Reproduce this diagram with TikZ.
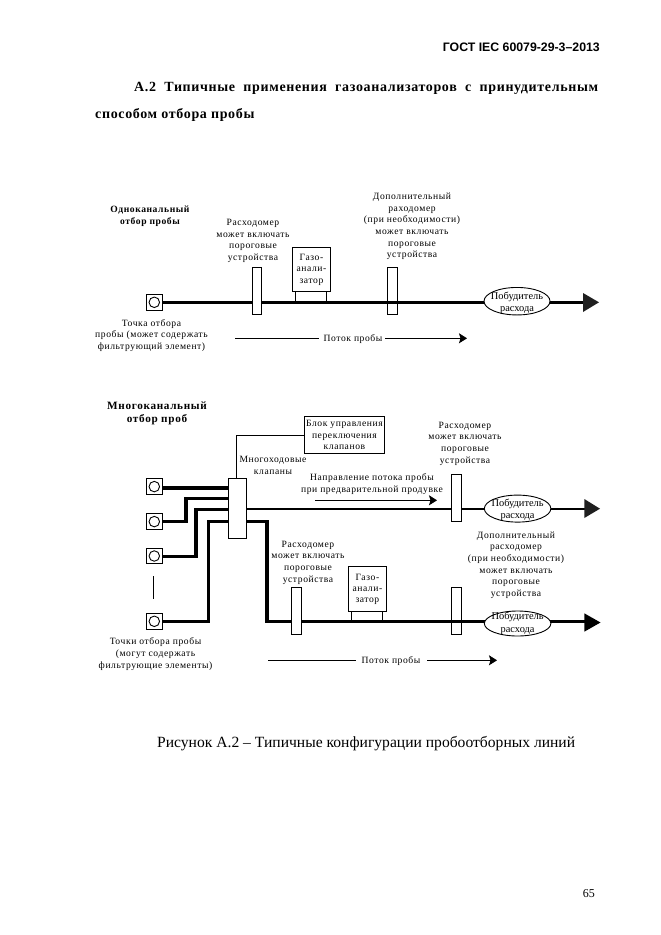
\documentclass[tikz,border=0pt]{standalone}
\usepackage{fontspec}
\setmainfont{Liberation Serif}
\newfontfamily\smallf[LetterSpace=6]{Liberation Serif}
\newfontfamily\titlef[LetterSpace=4.6]{Liberation Serif}
\newfontfamily\hdrf{Liberation Sans}
\usetikzlibrary{shapes.geometric,arrows.meta}
\tikzset{
 lab/.style={align=center,inner sep=0pt,font=\smallf\fontsize{9.6}{11.6}\selectfont},
 gaslab/.style={align=center,inner sep=0pt,font=\smallf\fontsize{9.6}{11.2}\selectfont},
 fanlab/.style={align=center,inner sep=0pt,font=\fontsize{10.4}{12.4}\selectfont},
 head/.style={align=center,inner sep=0pt,font=\smallf\bfseries\fontsize{9.6}{11.7}\selectfont},
 head2/.style={align=center,inner sep=0pt,font=\smallf\bfseries\fontsize{11.2}{13.5}\selectfont},
 thickline/.style={line width=3.3pt,line join=miter},
 midline/.style={line width=2pt},
 thinline/.style={line width=0.9pt},
 boxn/.style={draw=black,line width=0.9pt,fill=white,inner sep=0pt,anchor=north west},
 openbox/.style={draw=black,line width=0.9pt,inner sep=0pt,anchor=north west},
 fan/.style={draw=black,fill=white,line width=0.9pt,ellipse,inner sep=0pt},
 flowtip/.style={-{Stealth[length=8pt,width=10pt,inset=1.5pt]},line width=0.9pt}
}
\newcommand{\sqmark}[2]{%
 \node[boxn,minimum width=15.7pt,minimum height=15.7pt] (#1) at (146,#2) {};
 \node[draw=black,line width=0.9pt,circle,minimum size=10.5pt,inner sep=0pt] at (#1.center) {};}
\newcommand{\fmeter}[3]{\node[boxn,minimum width=9.4pt,minimum height=47pt] (#1) at (#2,#3) {};}
\newcommand{\fmopen}[3]{\node[openbox,minimum width=9.4pt,minimum height=47pt] (#1) at (#2,#3) {};}
\begin{document}
\begin{tikzpicture}[x=1pt,y=-1pt]
\useasboundingbox (0,0) rectangle (661,935);
\fill[white] (0,0) rectangle (661,935);
% header
\node[anchor=east,inner sep=0pt,font=\hdrf\bfseries\fontsize{12.3}{14}\selectfont] (hdr) at (600,47) {ГОСТ IEC 60079-29-3–2013};
\node[anchor=base west,inner sep=0pt,font=\titlef\bfseries\fontsize{14}{16}\selectfont] (t1) at (134,91) {\makebox[464pt][s]{А.2 Типичные применения газоанализаторов с принудительным}};
\node[anchor=base west,inner sep=0pt,font=\titlef\bfseries\fontsize{14}{16}\selectfont] (t2) at (95,118) {способом отбора пробы};
% ---- single channel
\node[head] (h1) at (150,216) {Одноканальный\\отбор пробы};
\sqmark{s0}{294}
\coordinate (a0) at (584,302.3);
\draw[thickline] (s0.east |- a0) -- (a0);
\fill[black!88] (583,293) -- (599,302.3) -- (583,312) -- cycle;
\node[lab] (l1) at (253,241) {Расходомер\\может включать\\пороговые\\устройства};
\fmeter{f1}{251.7}{267.3}
\node[boxn,minimum width=37.4pt,minimum height=44pt] (g1) at (292.3,247.3) {};
\node[gaslab] at (g1.center) {Газо-\\анали-\\затор};
\coordinate (g1l) at (295.3,291.3);\coordinate (g1r) at (326.3,291.3);
\draw[thinline] (g1l) -- ++(0,11) (g1r) -- ++(0,11);
\fmopen{f2}{387.3}{267.3}
\node[lab] (l2) at (412,226.5) {Дополнительный\\раходомер\\(при необходимости)\\может включать\\пороговые\\устройства};
\node[fan,minimum width=66pt,minimum height=27.5pt] (e1) at (517,301.2) {};
\node[fanlab,yshift=-1.5pt] at (e1.center) {Побудитель\\расхода};
\node[lab] (l3) at (151.5,335.5) {Точка отбора\\пробы (может содержать\\фильтрующий элемент)};
\node[lab] (fl1) at (353,339) {Поток пробы};
\coordinate (c1) at (235,338.3);\coordinate (c2) at (318.5,338.3);\coordinate (c3) at (385,338.3);\coordinate (c4) at (467,338.3);
\draw[thinline] (c1) -- (c2);
\draw[flowtip] (c3) -- (c4);
% ---- multi channel
\node[head2] (h2) at (157,413.5) {Многоканальный\\отбор проб};
\sqmark{m1}{478.3}\sqmark{m2}{513.3}\sqmark{m3}{547.7}\sqmark{m4}{613}
\node[boxn,minimum width=17.4pt,minimum height=59.4pt] (v) at (228.3,478.3) {};
\coordinate (v1) at (v.west |- 0,488);
\coordinate (v2) at (v.west |- 0,498.7);
\coordinate (v3) at (v.west |- 0,509.3);
\coordinate (v4) at (v.west |- 0,521.7);
\coordinate (o1) at (v.east |- 0,508.7);
\coordinate (o2) at (v.east |- 0,521.7);
\coordinate (end1) at (585,508.7);
\coordinate (end2) at (585,621.7);
\draw[thickline] (m1.east |- v1) -- (v1);
\draw[thickline] (m2.east |- 0,521.7) -- (186,521.7) -- (186,498.7) -- (v2);
\draw[thickline] (m3.east |- 0,556.7) -- (196,556.7) -- (196,509.3) -- (v3);
\draw[thickline] (m4.east |- 0,621.7) -- (208.3,621.7) -- (208.3,521.7) -- (v4);
\draw[midline] (o1) -- (end1);
\fill[black!88] (584.3,499) -- (600,508.7) -- (584.3,518) -- cycle;
\draw[thickline] (o2) -- (267,521.7) -- (267,621.7) -- (end2);
\fill[black] (584.3,613.3) -- (600.5,622.5) -- (584.3,631.7) -- cycle;
\node[boxn,minimum width=79.4pt,minimum height=37.6pt] (b) at (304.3,415.7) {};
\node[lab] at (b.center) {Блок управления\\переключения\\клапанов};
\coordinate (bv) at (236.7,435.3);
\draw[thinline] (b.west |- bv) -- (bv) -- (bv |- v.north);
\node[lab] (mv) at (273,465.5) {Многоходовые\\клапаны};
\node[lab] (pr) at (372,484) {Направление потока пробы\\при предварительной продувке};
\coordinate (p1) at (315,500.3);\coordinate (p2) at (437,500.3);
\draw[flowtip] (p1) -- (p2);
\fmeter{f3}{451.3}{474.3}
\node[lab] (l4) at (465,443.5) {Расходомер\\может включать\\пороговые\\устройства};
\node[fan,minimum width=66.5pt,minimum height=27pt] (e2) at (517.6,508.6) {};
\node[fanlab,yshift=-1.5pt] at (e2.center) {Побудитель\\расхода};
\node[lab] (l5) at (516,565) {Дополнительный\\расходомер\\(при необходимости)\\может включать\\пороговые\\устройства};
\node[lab] (l6) at (308,562.5) {Расходомер\\может включать\\пороговые\\устройства};
\fmeter{f4}{291.3}{587.3}
\node[boxn,minimum width=37.5pt,minimum height=45.3pt] (g2) at (348.2,566) {};
\node[gaslab] at (g2.center) {Газо-\\анали-\\затор};
\coordinate (g2l) at (351.3,611.3);\coordinate (g2r) at (382.7,611.3);
\draw[thinline] (g2l) -- ++(0,10) (g2r) -- ++(0,10);
\fmopen{f5}{451.3}{587.3}
\node[fan,minimum width=66.5pt,minimum height=25pt] (e3) at (517.6,623.5) {};
\node[fanlab] at (e3.center) {Побудитель\\расхода};
\coordinate (d1) at (153.3,576);\coordinate (d2) at (153.3,599);
\draw[thinline] (d1) -- (d2);
\node[lab] (l7) at (155.5,654) {Точки отбора пробы\\(могут содержать\\фильтрующие элементы)};
\node[lab] (fl2) at (391,661) {Поток пробы};
\coordinate (q1) at (268,660.3);\coordinate (q2) at (356,660.3);\coordinate (q3) at (427,660.3);\coordinate (q4) at (497,660.3);
\draw[thinline] (q1) -- (q2);
\draw[flowtip] (q3) -- (q4);
% caption
\node[anchor=base west,inner sep=0pt,font=\fontsize{15.6}{18}\selectfont] (cap) at (157,747) {Рисунок А.2 – Типичные конфигурации пробоотборных линий};
\node[anchor=base east,inner sep=0pt,font=\fontsize{12}{14}\selectfont] (pg) at (595,897) {65};
\end{tikzpicture}
\end{document}
